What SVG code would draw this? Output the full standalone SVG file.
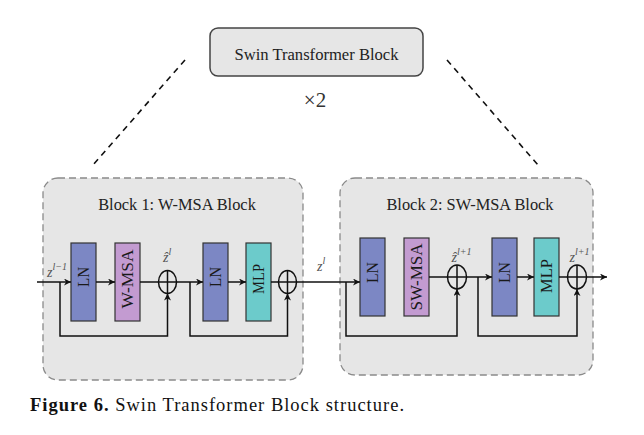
<svg xmlns="http://www.w3.org/2000/svg" width="644" height="435" viewBox="0 0 644 435">
<defs>
<marker id="ah" viewBox="0 0 10 10" refX="10" refY="5" markerWidth="7" markerHeight="7" markerUnits="userSpaceOnUse" orient="auto">
<path d="M0,0 L10,5 L0,10 L3,5 Z" fill="#111"/>
</marker>
<style>
.serif{font-family:"Liberation Serif","Times New Roman",serif;}
.blk{fill:#e6e6e6;stroke:#8a8a8a;stroke-width:1.3;stroke-dasharray:7 4;}
.ln{fill:#7c87c4;stroke:#333;stroke-width:1.2;}
.msa{fill:#c39bd1;stroke:#333;stroke-width:1.2;}
.mlp{fill:#6ccbcb;stroke:#333;stroke-width:1.2;}
.lbl{font-family:"Liberation Serif","Times New Roman",serif;font-size:16px;fill:#1a1a1a;text-anchor:middle;}
.ttl{font-family:"Liberation Serif","Times New Roman",serif;font-size:16.4px;fill:#222;text-anchor:middle;}
.var{font-family:"Liberation Serif","Times New Roman",serif;font-style:italic;font-size:14px;fill:#555;}
.sup{font-size:10px;}
.ln1{fill:none;stroke:#111;stroke-width:1.5;}
.arr{fill:none;stroke:#111;stroke-width:1.5;marker-end:url(#ah);}
.add{fill:none;stroke:#111;stroke-width:1.5;}
.dash{fill:none;stroke:#111;stroke-width:1.6;stroke-dasharray:6 5;}
</style>
</defs>
<rect width="644" height="435" fill="#fff"/>

<g id="top-block">
<rect x="210" y="28" width="213" height="48" rx="8" fill="#e6e6e6" stroke="#444" stroke-width="1.5"/>
<text x="316.5" y="60" class="serif" font-size="16.6" fill="#222" text-anchor="middle">Swin Transformer Block</text>
<text x="315" y="107" class="serif" font-size="21" fill="#333" text-anchor="middle">×2</text>
</g>

<g id="block1">
<rect class="blk" x="43" y="178" width="260" height="202" rx="15"/>
<text class="ttl" x="177" y="210">Block 1: W-MSA Block</text>
</g>
<g id="block2">
<rect class="blk" x="340" y="178" width="253" height="197" rx="15"/>
<text class="ttl" x="470" y="210">Block 2: SW-MSA Block</text>
</g>

<g id="ln1"><rect class="ln" x="71" y="243" width="25" height="78"/>
<text class="lbl" transform="translate(84,277) rotate(-90)" dy="0.33em" textLength="20" lengthAdjust="spacingAndGlyphs">LN</text></g>
<g id="wmsa"><rect class="msa" x="115" y="243" width="25" height="78"/>
<text class="lbl" transform="translate(128,279) rotate(-90)" dy="0.33em" textLength="59" lengthAdjust="spacingAndGlyphs">W-MSA</text></g>
<g id="ln2"><rect class="ln" x="203" y="243" width="25" height="78"/>
<text class="lbl" transform="translate(216,277) rotate(-90)" dy="0.33em" textLength="20" lengthAdjust="spacingAndGlyphs">LN</text></g>
<g id="mlp1"><rect class="mlp" x="246" y="243" width="25" height="78"/>
<text class="lbl" transform="translate(259,279) rotate(-90)" dy="0.33em" textLength="30" lengthAdjust="spacingAndGlyphs">MLP</text></g>

<g id="ln3"><rect class="ln" x="360" y="238" width="25" height="78"/>
<text class="lbl" transform="translate(373,272.5) rotate(-90)" dy="0.33em" textLength="21" lengthAdjust="spacingAndGlyphs">LN</text></g>
<g id="swmsa"><rect class="msa" x="404" y="238" width="25" height="78"/>
<text class="lbl" transform="translate(416.5,277) rotate(-90)" dy="0.33em" textLength="67" lengthAdjust="spacingAndGlyphs">SW-MSA</text></g>
<g id="ln4"><rect class="ln" x="492" y="238" width="25" height="78"/>
<text class="lbl" transform="translate(505,272.5) rotate(-90)" dy="0.33em" textLength="21" lengthAdjust="spacingAndGlyphs">LN</text></g>
<g id="mlp2"><rect class="mlp" x="534" y="238" width="25" height="78"/>
<text class="lbl" transform="translate(547,276) rotate(-90)" dy="0.33em" textLength="34" lengthAdjust="spacingAndGlyphs">MLP</text></g>

<g id="add1"><ellipse class="add" cx="167.5" cy="282" rx="9" ry="11.5"/><path class="add" d="M158.5,282 H176.5 M167.5,270.5 V293.5"/></g>
<g id="add2"><ellipse class="add" cx="287.5" cy="282" rx="9" ry="11.5"/><path class="add" d="M278.5,282 H296.5 M287.5,270.5 V293.5"/></g>
<g id="add3"><ellipse class="add" cx="457" cy="277" rx="9.5" ry="12"/><path class="add" d="M447.5,277 H466.5 M457,265 V289"/></g>
<g id="add4"><ellipse class="add" cx="577" cy="277" rx="9.5" ry="12"/><path class="add" d="M567.5,277 H586.5 M577,265 V289"/></g>

<g id="connectors">
<line class="dash" x1="185" y1="60" x2="93" y2="165"/>
<line class="dash" x1="447" y1="60" x2="538" y2="165"/>
<line class="arr" x1="37" y1="282" x2="71" y2="282"/>
<line class="arr" x1="96" y1="282" x2="115" y2="282"/>
<line class="ln1" x1="140" y1="282" x2="158.5" y2="282"/>
<polyline class="arr" points="60,282 60,336 167.5,336 167.5,293.5"/>
<line class="arr" x1="176.5" y1="282" x2="203" y2="282"/>
<line class="arr" x1="228" y1="282" x2="246" y2="282"/>
<line class="ln1" x1="271" y1="282" x2="278.5" y2="282"/>
<polyline class="arr" points="190,282 190,336 287.5,336 287.5,293.5"/>
<line class="arr" x1="296.5" y1="282" x2="360" y2="282"/>
<line class="ln1" x1="429" y1="277" x2="447.5" y2="277"/>
<polyline class="arr" points="346,282 346,336 457,336 457,289"/>
<line class="arr" x1="466.5" y1="277" x2="492" y2="277"/>
<line class="arr" x1="517" y1="277" x2="534" y2="277"/>
<line class="ln1" x1="559" y1="277" x2="567.5" y2="277"/>
<polyline class="arr" points="478,277 478,336 577,336 577,289"/>
<line class="arr" x1="586.5" y1="277" x2="607" y2="277"/>
</g>

<g id="labels">
<text class="var" x="47" y="277">z<tspan class="sup" dy="-7">l−1</tspan></text>
<text class="var" x="163" y="262">ẑ<tspan class="sup" dy="-7">l</tspan></text>
<text class="var" x="317" y="271">z<tspan class="sup" dy="-7">l</tspan></text>
<text class="var" x="451.5" y="262">ẑ<tspan class="sup" dy="-7">l+1</tspan></text>
<text class="var" x="569.5" y="262">z<tspan class="sup" dy="-7">l+1</tspan></text>
</g>

<text class="serif" x="30" y="411" font-size="18.5" fill="#111" textLength="374" lengthAdjust="spacing"><tspan font-weight="bold">Figure 6.</tspan> Swin Transformer Block structure.</text>
</svg>
